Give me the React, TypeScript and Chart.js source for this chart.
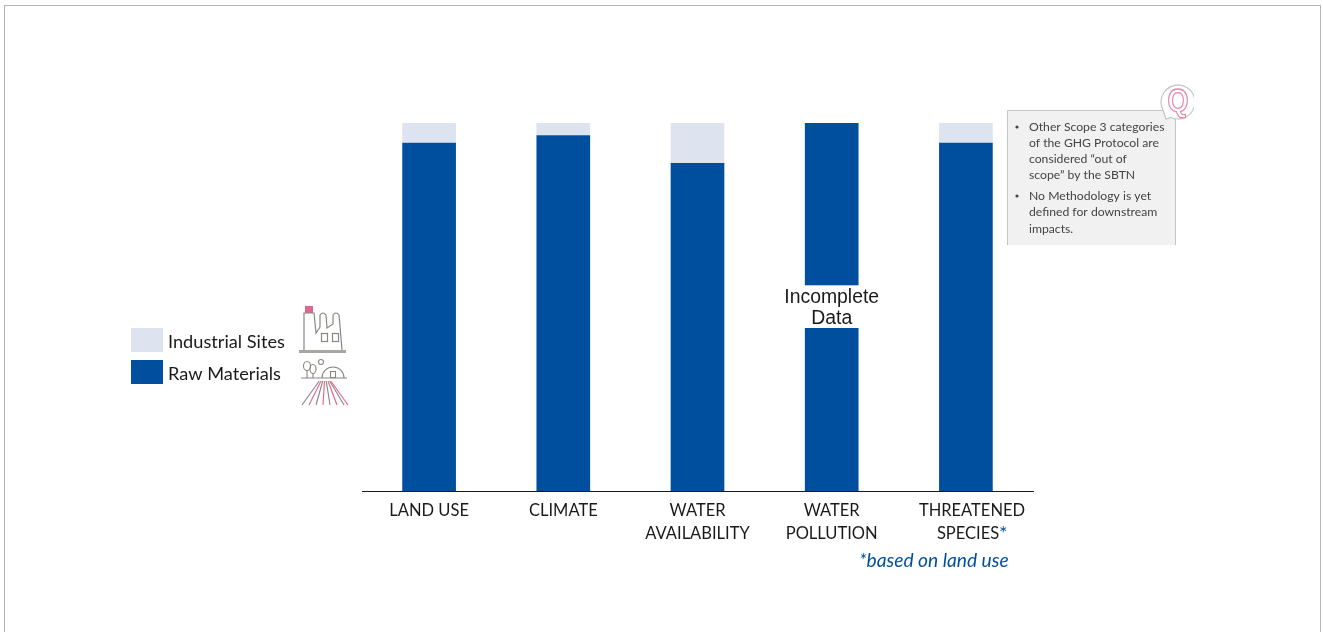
import React, { useEffect, useRef } from "react";
import { Chart, registerables } from "chart.js";

Chart.register(...registerables);

const NBSP = "\u00a0";
const categories = ["LAND USE", "CLIMATE", "WATER AVAILABILITY", "WATER POLLUTION", "THREATENED SPECIES"];
const tickLines: string[][] = [
  ["LAND USE"],
  ["CLIMATE"],
  ["WATER", "AVAILABILITY"],
  ["WATER", "POLLUTION"],
  [NBSP.repeat(3) + "THREATENED", NBSP + "SPECIES"],
];
const rawMaterials = [94.6, 96.7, 89.1, 100, 94.6];
const industrialSites = [5.4, 3.3, 10.9, 0, 5.4];
const gapCategory = 3;
const gapRange = [44.3, 55.9];
const gapLabel = ["Incomplete", "Data"];
const footnote = "*based on land use";
const noteBullets = [
  ["Other Scope 3 categories", "of the GHG Protocol are", "considered \u201cout of", "scope\u201d by the SBTN"],
  ["No Methodology is yet", "defined for downstream", "impacts."],
];

const BLUE = "#004f9f";
const PALE = "#dde4ef";
const PINK = "#e0668f";
const GREY = "#8a8682";

function drawFactory(ctx: CanvasRenderingContext2D) {
  ctx.save();
  ctx.filter = "blur(0.5px)";
  ctx.strokeStyle = GREY;
  ctx.lineWidth = 1.2;
  ctx.fillStyle = PINK;
  ctx.fillRect(305, 306, 8, 7);
  ctx.beginPath();
  ctx.moveTo(304, 350);
  ctx.lineTo(304, 313);
  ctx.lineTo(314, 313);
  ctx.lineTo(316, 333);
  ctx.lineTo(320, 327);
  ctx.lineTo(320, 315);
  ctx.quadraticCurveTo(323, 311, 326, 315);
  ctx.lineTo(327, 328);
  ctx.lineTo(333, 324);
  ctx.lineTo(333, 315);
  ctx.quadraticCurveTo(336, 311, 339, 315);
  ctx.lineTo(342, 350);
  ctx.stroke();
  ctx.strokeRect(321.5, 333.5, 6, 8);
  ctx.strokeRect(332.5, 333.5, 6, 8);
  ctx.fillStyle = "#a9a5a1";
  ctx.fillRect(299, 350, 47, 3);
  ctx.restore();
}

function drawFarm(ctx: CanvasRenderingContext2D) {
  ctx.save();
  ctx.filter = "blur(0.5px)";
  ctx.strokeStyle = GREY;
  ctx.lineWidth = 1.1;
  for (const [x, y, rx, ry] of [[307, 366, 3.5, 4.5], [313, 369, 3, 4.5], [321, 362, 2.5, 2.5]]) {
    ctx.beginPath();
    ctx.ellipse(x, y, rx, ry, 0, 0, Math.PI * 2);
    ctx.stroke();
  }
  ctx.beginPath();
  ctx.moveTo(307, 370);
  ctx.lineTo(307, 378);
  ctx.moveTo(313, 373);
  ctx.lineTo(313, 378);
  ctx.stroke();
  ctx.beginPath();
  ctx.arc(333, 378, 11, Math.PI, 0);
  ctx.stroke();
  ctx.strokeRect(330.5, 371.5, 5, 6);
  ctx.beginPath();
  ctx.moveTo(301, 378);
  ctx.lineTo(347, 378);
  ctx.stroke();
  const feet = [302, 309, 316, 323, 330, 337, 344, 348];
  feet.forEach((x, i) => {
    ctx.strokeStyle = i % 2 ? PINK : GREY;
    ctx.beginPath();
    ctx.moveTo(325 + (x - 325) * 0.25, 381);
    ctx.lineTo(x, 405);
    ctx.stroke();
  });
  ctx.restore();
}

function drawNote(ctx: CanvasRenderingContext2D) {
  ctx.save();
  ctx.fillStyle = "#f1f1f1";
  ctx.fillRect(1007, 110, 169, 135);
  ctx.strokeStyle = "#c4c4c4";
  ctx.beginPath();
  ctx.moveTo(1007.5, 245);
  ctx.lineTo(1007.5, 110.5);
  ctx.lineTo(1175.5, 110.5);
  ctx.lineTo(1175.5, 245);
  ctx.stroke();

  ctx.filter = "blur(0.5px)";
  ctx.fillStyle = "#444444";
  ctx.font = "12.2px Lato";
  ctx.textAlign = "left";
  ctx.textBaseline = "middle";
  const baselines = [[127, 143, 159, 175], [196, 212, 229]];
  noteBullets.forEach((lines, b) => {
    ctx.beginPath();
    ctx.arc(1017, baselines[b][0], 1.6, 0, Math.PI * 2);
    ctx.fill();
    lines.forEach((line, i) => ctx.fillText(line, 1029, baselines[b][i]));
  });
  ctx.restore();

  // Speech bubble with the hollow pink letter, cut off at its right edge
  ctx.save();
  ctx.beginPath();
  ctx.rect(1155, 80, 39, 45);
  ctx.clip();
  ctx.filter = "blur(0.5px)";
  ctx.fillStyle = "#ffffff";
  ctx.strokeStyle = "#c4c4c4";
  ctx.lineWidth = 1.2;
  ctx.beginPath();
  ctx.arc(1178, 102, 17, 2.95, 2.0 + Math.PI * 2);
  ctx.lineTo(1166, 119);
  ctx.closePath();
  ctx.fill();
  ctx.stroke();
  ctx.translate(1178, 102);
  ctx.scale(1, 1.15);
  ctx.font = "bold 27px 'Liberation Sans'";
  ctx.textAlign = "center";
  ctx.textBaseline = "middle";
  ctx.strokeStyle = "#e884ab";
  ctx.lineWidth = 1.1;
  ctx.strokeText("Q", 0, 0);
  ctx.restore();
}

const decorations = {
  id: "decorations",
  beforeDraw(chart: Chart) {
    const { ctx, canvas } = chart;
    ctx.save();
    ctx.fillStyle = "#ffffff";
    ctx.fillRect(0, 0, canvas.width, canvas.height);
    ctx.strokeStyle = "#b5b5b5";
    ctx.strokeRect(4.5, 5.5, 1316, 640);
    ctx.restore();
  },
  afterDraw(chart: Chart) {
    const { ctx } = chart;
    const x = chart.scales.x;
    const y = chart.scales.y;
    ctx.save();

    // Break in the water pollution bar for the missing data
    const bar = chart.getDatasetMeta(0).data[gapCategory] as any;
    const top = y.getPixelForValue(gapRange[1]);
    const bottom = y.getPixelForValue(gapRange[0]);
    ctx.fillStyle = "#ffffff";
    ctx.fillRect(bar.x - bar.width / 2 - 1, top, bar.width + 2, bottom - top);
    ctx.fillStyle = "#1a1a1a";
    ctx.font = "19.4px 'Liberation Sans'";
    ctx.textAlign = "center";
    ctx.textBaseline = "middle";
    gapLabel.forEach((line, i) => ctx.fillText(line, bar.x, 298 + i * 21));

    // Blue asterisk after the last category name
    const last = x.getPixelForValue(categories.length - 1);
    ctx.font = "20px Lato";
    ctx.fillStyle = BLUE;
    ctx.textAlign = "left";
    ctx.fillText("*", last + 33, 534);

    ctx.font = "italic 19.2px Lato";
    ctx.fillText(footnote, 859, 561);

    // Series key at the left of the bars
    ctx.font = "18.2px Lato";
    ctx.textBaseline = "middle";
    const rows = [
      { ds: chart.data.datasets[1], y: 328 },
      { ds: chart.data.datasets[0], y: 360 },
    ];
    rows.forEach((row) => {
      ctx.fillStyle = row.ds.backgroundColor as string;
      ctx.fillRect(131, row.y, 32, 24);
      ctx.fillStyle = "#1a1a1a";
      ctx.fillText(row.ds.label as string, 168, row.y + 14);
    });
    ctx.restore();

    drawFactory(ctx);
    drawFarm(ctx);
    drawNote(ctx);
  },
};

export default function App() {
  const ref = useRef<HTMLCanvasElement>(null);

  useEffect(() => {
    document.body.style.margin = "0";
    const chart = new Chart(ref.current!, {
      type: "bar",
      data: {
        labels: categories,
        datasets: [
          { label: "Raw Materials", data: rawMaterials, backgroundColor: BLUE },
          { label: "Industrial Sites", data: industrialSites, backgroundColor: PALE },
        ],
      },
      options: {
        animation: false,
        responsive: false,
        layout: { padding: { left: 362, right: 290, top: 123, bottom: 0 } },
        datasets: { bar: { categoryPercentage: 0.4, barPercentage: 1 } },
        plugins: { legend: { display: false }, tooltip: { enabled: false } },
        scales: {
          x: {
            stacked: true,
            grid: { display: false },
            border: { color: "#1a1a1a", width: 1 },
            afterFit(scale: any) {
              scale.height = 141;
            },
            ticks: {
              padding: 0,
              color: "#1a1a1a",
              maxRotation: 0,
              autoSkip: false,
              font: { family: "Lato", size: 16.5, lineHeight: 1.42 },
              callback: (_v: any, i: number) => tickLines[i],
            },
          },
          y: { stacked: true, min: 0, max: 100, display: false },
        },
      },
      plugins: [decorations],
    });
    return () => chart.destroy();
  }, []);

  return <canvas ref={ref} width={1323} height={632} style={{ display: "block" }} />;
}
